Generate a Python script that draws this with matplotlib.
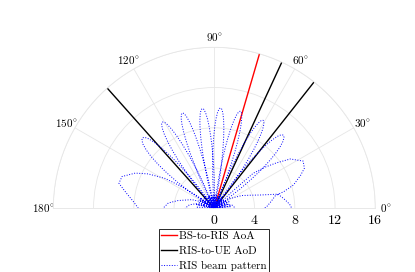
import numpy as np
import matplotlib
matplotlib.use("Agg")
import matplotlib.pyplot as plt

plt.rcParams['font.family'] = 'serif'
plt.rcParams['font.serif'] = ['cmr10', 'DejaVu Serif']
plt.rcParams['mathtext.fontset'] = 'cm'
plt.rcParams['axes.formatter.use_mathtext'] = True

# angles of the reference directions (deg), drawn from 0 to 16
aoa_deg = [73.7]
aod_deg = [65.2, 51.7, 131.7]
ray_len = [0, 16]

# RIS beam pattern, lobe by lobe (deg, gain)
petal_r = [0, 1.56, 3.09, 4.54, 5.88, 7.07, 8.09, 8.91, 9.51, 9.88, 10,
           9.88, 9.51, 8.91, 8.09, 7.07, 5.88, 4.54, 3.09, 1.56, 0]
lobes = [
    # lobes near 0 deg (partly below the baseline)
    ([40, 32, 25, 20, 16, 12.5, 6.7, 3, 0, -5, -10, -20, -30],
     [0, 1.8, 3.0, 3.8, 4.8, 6.5, 7.1, 7.5, 7.7, 7.5, 7.0, 5.0, 0]),
    ([35, 20, 10, 0, -10, -20], [0, 1.2, 1.8, 2.1, 1.5, 0]),
    ([44, 43, 42, 39, 36.3, 33, 28, 24, 21, 16.4, 13.5, 11.7, 6, 1.7, -4, -10, -18],
     [0, 2.5, 5.2, 6.5, 7.6, 9.0, 10, 9.8, 9.2, 8.2, 7.1, 6.2, 5.6, 5.2, 4.5, 3.0, 0]),
    ([56.9, 55.88, 54.86, 53.84, 52.82, 51.8, 50.78, 49.76, 48.74, 47.72, 46.7,
      45.46, 44.22, 42.98, 41.74, 40.5, 39.26, 38.02, 36.78, 35.54, 34.3], petal_r),
    ([69.8, 68.92, 68.04, 67.16, 66.28, 65.4, 64.52, 63.64, 62.76, 61.88, 61,
      60.03, 59.06, 58.09, 57.12, 56.15, 55.18, 54.21, 53.24, 52.27, 51.3], petal_r),
    ([83.2, 82.38, 81.56, 80.74, 79.92, 79.1, 78.28, 77.46, 76.64, 75.82, 75,
      74.15, 73.3, 72.45, 71.6, 70.75, 69.9, 69.05, 68.2, 67.35, 66.5], petal_r),
    ([94.5, 93.7, 92.9, 92.1, 91.3, 90.5, 89.7, 88.9, 88.1, 87.3, 86.5,
      85.69, 84.88, 84.07, 83.26, 82.45, 81.64, 80.83, 80.02, 79.21, 78.4], petal_r),
    ([105.0, 104.18, 103.36, 102.54, 101.72, 100.9, 100.08, 99.26, 98.44, 97.62, 96.8,
      95.99, 95.18, 94.37, 93.56, 92.75, 91.94, 91.13, 90.32, 89.51, 88.7], petal_r),
    ([117.2, 116.33, 115.46, 114.59, 113.72, 112.85, 111.98, 111.11, 110.24, 109.37, 108.5,
      107.67, 106.84, 106.01, 105.18, 104.35, 103.52, 102.69, 101.86, 101.03, 100.2], petal_r),
    ([130.9, 129.91, 128.92, 127.93, 126.94, 125.95, 124.96, 123.97, 122.98, 121.99, 121,
      120.1, 119.2, 118.3, 117.4, 116.5, 115.6, 114.7, 113.8, 112.9, 112.0], petal_r),
    ([148.5, 147.2, 145.9, 144.6, 143.3, 142.0, 140.7, 139.4, 138.1, 136.8, 135.5,
      134.45, 133.4, 132.35, 131.3, 130.25, 129.2, 128.15, 127.1, 126.05, 125.0], petal_r),
    # lobes near 180 deg
    ([142, 144, 146.5, 148.7, 152.5, 156, 161, 165.3, 170, 175, 180, 186, 192, 200],
     [0, 2.0, 3.9, 5.7, 7.4, 8.6, 9.7, 9.8, 8.9, 8.1, 7.55, 6.5, 5.0, 0]),
    ([140, 150, 159, 168, 173.4, 180, 188, 200], [0, 1.2, 2.4, 3.7, 4.6, 5.1, 4.5, 0]),
    ([150, 165, 172, 180, 190, 200], [0, 1.8, 2.5, 2.9, 2.0, 0]),
    # low side-lobe ripple that fills the centre
    ([0, 4, 8, 12, 16, 20, 24, 28, 32, 36, 40, 44, 48, 52, 56, 60, 64, 68, 72, 76,
      80, 84, 88, 92, 96, 100, 104, 108, 112, 116, 120, 124, 128, 132, 136, 140, 144,
      148, 152, 156, 160, 164, 168, 172, 176, 180],
     [1.6, 0.3, 1.7, 0.2, 1.5, 0.3, 1.6, 0.2, 1.4, 0.3, 1.3, 0.2, 1.2, 0.3, 1.3, 0.2,
      1.4, 0.3, 1.2, 0.2, 1.3, 0.3, 1.4, 0.2, 1.3, 0.3, 1.2, 0.2, 1.4, 0.3, 1.3, 0.2,
      1.5, 0.3, 1.4, 0.2, 1.6, 0.3, 1.7, 0.2, 1.6, 0.3, 1.8, 0.2, 1.7, 1.5]),
]

beam_th = np.concatenate([np.array(a, float) for a, _ in lobes])
beam_r = np.concatenate([np.array(r, float) for _, r in lobes])

fig = plt.figure(figsize=(4.15, 2.72), dpi=100)
# square box; the half disc sits in its middle
ax = fig.add_axes([53.3 / 415, -16.8 / 272, 322 / 415, 322 / 272], projection='polar')
ax.set_thetamin(0)
ax.set_thetamax(180)
ax.set_rlim(0, 16)

ax.plot(np.deg2rad(aoa_deg * 2), ray_len, color='red', lw=1.0, label='BS-to-RIS AoA')
for i, a in enumerate(aod_deg):
    ax.plot(np.deg2rad([a, a]), ray_len, color='black', lw=1.0,
            label='RIS-to-UE AoD' if i == 0 else None)
ax.plot(np.deg2rad(beam_th), beam_r, color='blue', ls=':', lw=0.7, label='RIS beam pattern')

grid_c = '#e6e6e6'
ax.set_thetagrids(range(0, 181, 30), [r'$%d^{\circ}$' % d for d in range(0, 181, 30)], fontsize=8)
ax.set_rgrids([0, 4, 8, 12, 16], ['0', '4', '8', '12', '16'], fontsize=8)
ax.grid(color=grid_c, lw=0.6)
for s in ax.spines.values():
    s.set_color(grid_c)
    s.set_linewidth(0.6)
ax.tick_params(length=0)
ax.tick_params(axis='x', pad=0.5)
ax.tick_params(axis='y', pad=5)

leg = ax.legend(loc='upper left', bbox_to_anchor=(158.5 / 415, 1 - 228.5 / 272),
                bbox_transform=fig.transFigure, fontsize=8, frameon=True, fancybox=False,
                framealpha=1, borderaxespad=0, handlelength=1.45, handletextpad=0.15,
                labelspacing=0.45, borderpad=0.25)
leg.get_frame().set_edgecolor('#262626')
leg.get_frame().set_linewidth(0.7)

fig.savefig('out.png', dpi=100)
